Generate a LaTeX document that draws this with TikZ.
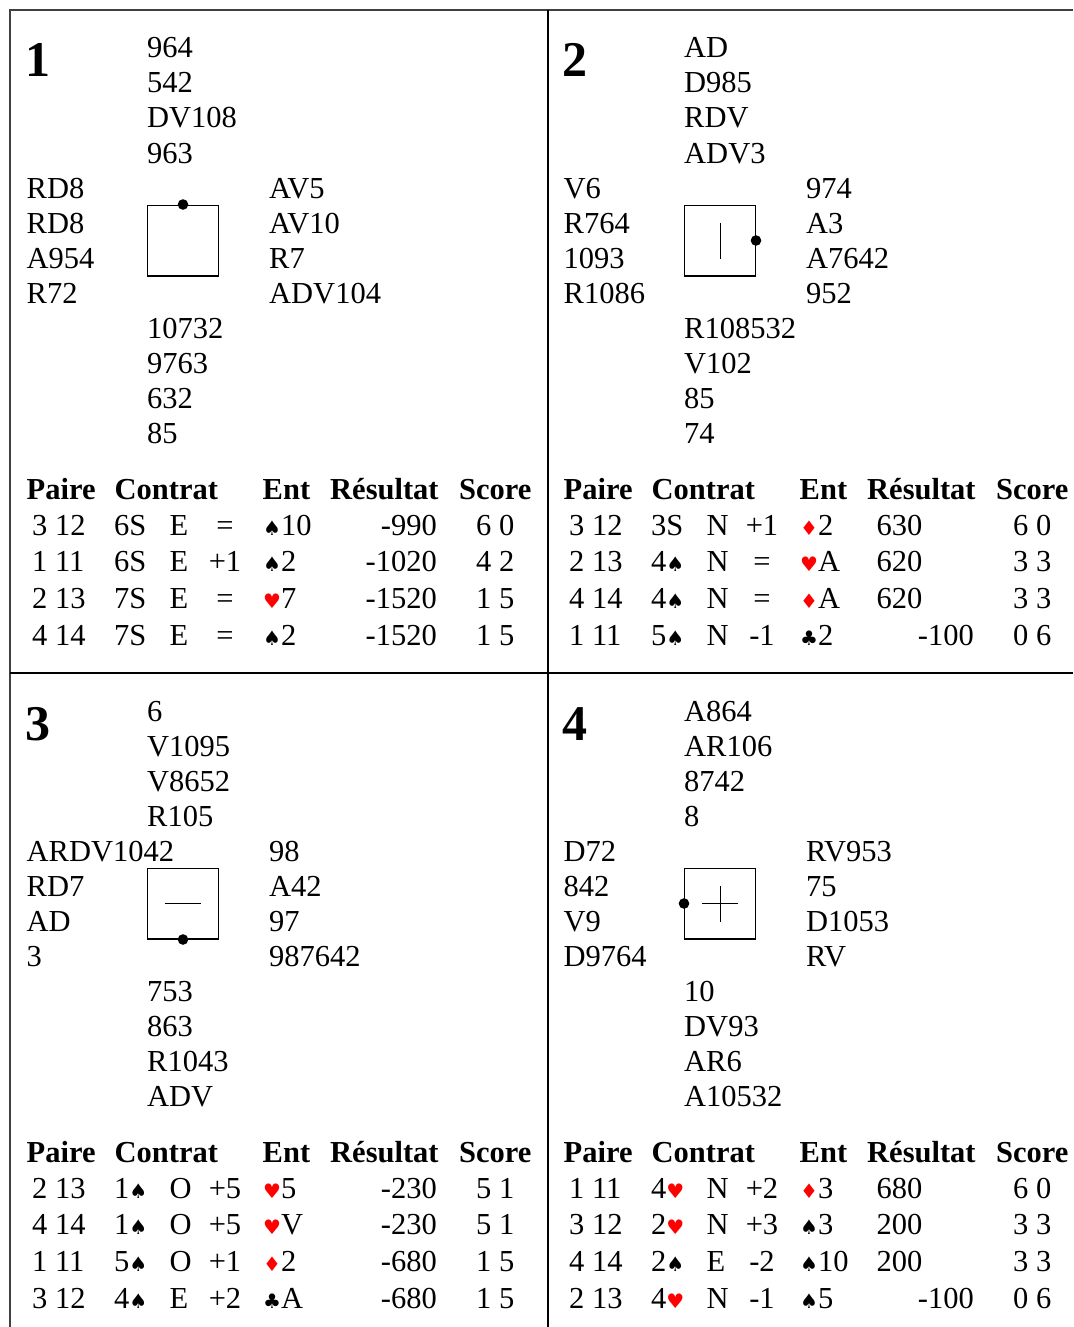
\documentclass[tikz,border=0pt]{standalone}
\usepackage{fontspec}
\setmainfont{Liberation Serif}
\newfontfamily\suitfont{DejaVu Sans}

% couleurs
\newcommand{\pique}{{\suitfont\fontsize{20}{20}\selectfont ♠}}
\newcommand{\trefle}{{\suitfont\fontsize{20}{20}\selectfont ♣}}
\newcommand{\coeur}{{\color{red}\suitfont\fontsize{20}{20}\selectfont ♥}}
\newcommand{\carreau}{{\color{red}\suitfont\fontsize{20}{20}\selectfont ♦}}

% une main: nom, x, y, lignes
\newcommand{\jeu}[4]{%
	\foreach \t [count=\i] in {#4}
		\node[txt] (#1\i) at (#2, #3+35*\i-35) {\t};}

% en-tete du tableau
\newcommand{\entete}{%
	\node[hdr] (paire) at (26.5, 499.5) {Paire};
	\node[hdr] (contrat) at (114.5, 499.5) {Contrat};
	\node[hdr] (ent) at (262.5, 499.5) {Ent};
	\node[hdr] (resultat) at (330, 499.5) {Résultat};
	\node[hdr] (score) at (459, 499.5) {Score};}

% lignes du tableau
\newcommand{\resultats}[1]{%
	\foreach \pa/\co/\de/\re/\en/\va/\xr/\sc [count=\i] in {#1}{
		\pgfmathsetmacro{\yy}{535+36.67*(\i-1)}
		\node[txt] (pa\i) at (32, \yy) {\pa};
		\node[txt] (co\i) at (114, \yy) {\co};
		\node[txt] (de\i) at (169.5, \yy) {\de};
		\node[txt, anchor=base] (re\i) at (225, \yy) {\re};
		\node[txt] (en\i) at (263, \yy) {\en};
		\node[txt, anchor=base east] (va\i) at (\xr, \yy) {\va};
		\node[txt] (sc\i) at (476, \yy) {\sc};
	}}

\begin{document}
\begin{tikzpicture}[x=1pt, y=-1pt,
	txt/.style={anchor=base west, inner sep=0pt, font=\fontsize{30.5}{35}\selectfont},
	hdr/.style={txt, font=\fontsize{30.5}{35}\selectfont\bfseries},
	numero/.style={anchor=base west, inner sep=0pt, font=\fontsize{50}{50}\selectfont\bfseries},
	carre/.style={draw, line width=1.3pt, minimum size=70.7pt, inner sep=0pt},
	cadre/.style={line width=1.2pt}]
	\useasboundingbox (0, 0) rectangle (1073, 1327);
	%cadre
	\draw[cadre, black!75] (10, 1327) -- (10, 10) -- (1073, 10);
	\draw[cadre] (548, 10) -- (548, 1327)
				(10, 673) -- (1073, 673);

	%donne 1
	\begin{scope}[name prefix=d1-]
		\node[numero] (nr) at (25, 77) {1};
		\jeu{n}{147}{58}{964, 542, DV108, 963}
		\jeu{w}{26.5}{198}{RD8, RD8, A954, R72}
		\jeu{e}{269}{198}{AV5, AV10, R7, ADV104}
		\jeu{s}{147}{338}{10732, 9763, 632, 85}
		\node[carre] (box) at (183, 240.5) {};
		\fill (box.north) circle (5.3pt);
		\entete
		\resultats{3 12/6S/E/=/{\pique10}/-990/437/6 0,
			1 11/6S/E/+1/{\pique2}/-1020/437/4 2,
			2 13/7S/E/=/{\coeur7}/-1520/437/1 5,
			4 14/7S/E/=/{\pique2}/-1520/437/1 5}
	\end{scope}

	%donne 2
	\begin{scope}[shift={(537, 0)}, name prefix=d2-]
		\node[numero] (nr) at (25, 77) {2};
		\jeu{n}{147}{58}{AD, D985, RDV, ADV3}
		\jeu{w}{26.5}{198}{V6, R764, 1093, R1086}
		\jeu{e}{269}{198}{974, A3, A7642, 952}
		\jeu{s}{147}{338}{R108532, V102, 85, 74}
		\node[carre] (box) at (183, 240.5) {};
		\fill (box.east) circle (5.3pt);
		\draw ([yshift=-18pt]box.center) -- ([yshift=18pt]box.center);
		\entete
		\resultats{3 12/3S/N/+1/{\carreau2}/630/385.5/6 0,
			2 13/4\pique/N/=/{\coeur A}/620/385.5/3 3,
			4 14/4\pique/N/=/{\carreau A}/620/385.5/3 3,
			1 11/5\pique/N/-1/{\trefle2}/-100/437/0 6}
	\end{scope}

	%donne 3
	\begin{scope}[shift={(0, 663)}, name prefix=d3-]
		\node[numero] (nr) at (25, 77) {3};
		\jeu{n}{147}{58}{6, V1095, V8652, R105}
		\jeu{w}{26.5}{198}{ARDV1042, RD7, AD, 3}
		\jeu{e}{269}{198}{98, A42, 97, 987642}
		\jeu{s}{147}{338}{753, 863, R1043, ADV}
		\node[carre] (box) at (183, 240.5) {};
		\fill (box.south) circle (5.3pt);
		\draw ([xshift=-18pt]box.center) -- ([xshift=18pt]box.center);
		\entete
		\resultats{2 13/1\pique/O/+5/{\coeur5}/-230/437/5 1,
			4 14/1\pique/O/+5/{\coeur V}/-230/437/5 1,
			1 11/5\pique/O/+1/{\carreau2}/-680/437/1 5,
			3 12/4\pique/E/+2/{\trefle A}/-680/437/1 5}
	\end{scope}

	%donne 4
	\begin{scope}[shift={(537, 663)}, name prefix=d4-]
		\node[numero] (nr) at (25, 77) {4};
		\jeu{n}{147}{58}{A864, AR106, 8742, 8}
		\jeu{w}{26.5}{198}{D72, 842, V9, D9764}
		\jeu{e}{269}{198}{RV953, 75, D1053, RV}
		\jeu{s}{147}{338}{10, DV93, AR6, A10532}
		\node[carre] (box) at (183, 240.5) {};
		\fill (box.west) circle (5.3pt);
		\draw ([yshift=-18pt]box.center) -- ([yshift=18pt]box.center)
				([xshift=-18pt]box.center) -- ([xshift=18pt]box.center);
		\entete
		\resultats{1 11/4\coeur/N/+2/{\carreau3}/680/385.5/6 0,
			3 12/2\coeur/N/+3/{\pique3}/200/385.5/3 3,
			4 14/2\pique/E/-2/{\pique10}/200/385.5/3 3,
			2 13/4\coeur/N/-1/{\pique5}/-100/437/0 6}
	\end{scope}
\end{tikzpicture}
\end{document}
